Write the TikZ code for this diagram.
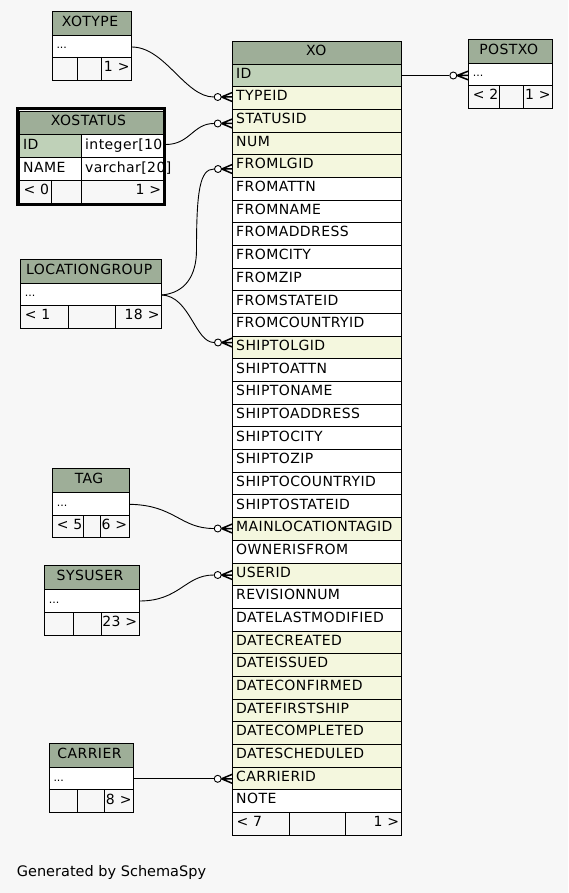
\documentclass[tikz,border=0pt]{standalone}
\usepackage{fontspec}
\setmainfont{DejaVu Sans}
\newfontfamily\cellfont{DejaVu Sans}[LetterSpace=3]

\definecolor{bgc}{HTML}{F7F7F7}
\definecolor{hdrc}{HTML}{9EAE98}
\definecolor{idc}{HTML}{BFD1B8}
\definecolor{fkc}{HTML}{F4F7DE}
\definecolor{plain}{HTML}{FFFFFF}

\tikzset{
  cell/.style={draw=black, line width=0.9pt},
  lbl/.style={inner sep=0pt, font=\cellfont\fontsize{14}{16}\selectfont},
  dots/.style={inner sep=0pt, font=\fontsize{11}{13}\selectfont},
  wire/.style={line width=0.9pt},
  endo/.style={circle, draw=black, fill=white, line width=0.9pt,
               minimum size=7pt, inner sep=0pt},
  crow/.style={line width=1.5pt},
  credit/.style={inner sep=0pt, font=\fontsize{14.5}{17}\selectfont},
}

% crow's foot: converging point x, table edge x, row y
\newcommand{\crowfoot}[3]{%
  \draw[crow] (#1,#3) -- (#2,#3-4.5) (#1,#3) -- (#2,#3) (#1,#3) -- (#2,#3+4.5);}

% header + "..." row of a collapsed table:
% name, x-left, x-right, y-top, y-header-bottom, y-row-bottom, title
\newcommand{\tabhead}[7]{%
  \filldraw[cell, fill=hdrc] (#2,#4) rectangle (#3,#5);
  \node[lbl, anchor=base] (#1-title) at ({(#2+#3)/2-2},{(#4+#5)/2+3}) {#7};
  \filldraw[cell, fill=white] (#2,#5) rectangle (#3,#6);
  \node[dots, anchor=base west] (#1-row) at ({#2+4},{(#5+#6)/2+2.5}) {...};}

% footer of a table: name, x-left, x-right, y-top, y-bottom,
% first divider x, second divider x, left text, right text
\newcommand{\tabfoot}[9]{%
  \draw[cell] (#2,#4) rectangle (#3,#5) (#6,#4) -- (#6,#5) (#7,#4) -- (#7,#5);
  \node[lbl, anchor=base west] (#1-fl) at ({#2+4},{(#4+#5)/2+3}) {#8};
  \node[lbl, anchor=base east] (#1-fr) at ({#3-2},{(#4+#5)/2+3}) {#9};}

\begin{document}
\begin{tikzpicture}[x=1pt, y=-1pt]
  \useasboundingbox (0,0) rectangle (568,893);
  \fill[bgc] (0,0) rectangle (568,893);

  % ---------------- XO ----------------
  \filldraw[cell, fill=hdrc] (232.3,41) rectangle (401.3,64);
  \node[lbl, anchor=base] (xo-title) at (316.3,55.5) {XO};
  \foreach \name/\col [count=\i from 0] in {
      ID/idc, TYPEID/fkc, STATUSID/fkc, NUM/fkc, FROMLGID/fkc,
      FROMATTN/plain, FROMNAME/plain, FROMADDRESS/plain, FROMCITY/plain,
      FROMZIP/plain, FROMSTATEID/plain, FROMCOUNTRYID/plain,
      SHIPTOLGID/fkc, SHIPTOATTN/plain, SHIPTONAME/plain,
      SHIPTOADDRESS/plain, SHIPTOCITY/plain, SHIPTOZIP/plain,
      SHIPTOCOUNTRYID/plain, SHIPTOSTATEID/plain, MAINLOCATIONTAGID/fkc,
      OWNERISFROM/plain, USERID/fkc, REVISIONNUM/plain,
      DATELASTMODIFIED/plain, DATECREATED/fkc, DATEISSUED/fkc,
      DATECONFIRMED/fkc, DATEFIRSTSHIP/fkc, DATECOMPLETED/fkc,
      DATESCHEDULED/fkc, CARRIERID/fkc, NOTE/plain} {
    \pgfmathsetmacro\yt{64+\i*22.68}
    \pgfmathsetmacro\yb{\yt+22.68}
    \filldraw[cell, fill=\col] (232.3,\yt) rectangle (401.3,\yb);
    \node[lbl, anchor=base west] (xo-\i) at (236,{\yt+14.2}) {\name};
  }
  \tabfoot{xo}{232.3}{401.3}{812.4}{835.3}{289.3}{345.3}{< 7}{1 >}

  % ---------------- XOTYPE ----------------
  \tabhead{xotype}{52.3}{131.7}{11.3}{35.3}{57}{XOTYPE}
  \tabfoot{xotype}{52.3}{131.7}{57}{80.3}{77.3}{101.7}{}{1 >}

  % ---------------- XOSTATUS (full columns, framed) ----------------
  \draw[line width=3pt] (17.8,108.8) rectangle (164.5,204.2);
  \filldraw[cell, fill=hdrc] (19.3,111) rectangle (163.3,134.3);
  \node[lbl, anchor=base] (xostatus-title) at (88.5,126) {XOSTATUS};
  \filldraw[cell, fill=idc] (19.3,134.3) rectangle (81.3,157);
  \filldraw[cell, fill=white] (81.3,134.3) rectangle (163.3,157);
  \filldraw[cell, fill=white] (19.3,157) rectangle (81.3,180);
  \filldraw[cell, fill=white] (81.3,157) rectangle (163.3,180);
  \node[lbl, anchor=base west] (xostatus-id) at (23,149.5) {ID};
  \node[lbl, anchor=base west] (xostatus-idtype) at (85,149.5) {integer[10};
  \node[lbl, anchor=base west] (xostatus-name) at (23,172.3) {NAME};
  \node[lbl, anchor=base west] (xostatus-nametype) at (85,172.3) {varchar[20]};
  \tabfoot{xostatus}{19.3}{163.3}{180}{203}{51.3}{81.3}{< 0}{1 >}

  % ---------------- POSTXO ----------------
  \tabhead{postxo}{468.7}{552.7}{39}{63.3}{85}{POSTXO}
  \tabfoot{postxo}{468.7}{552.7}{85}{108.3}{499.3}{523.3}{< 2}{1 >}

  % ---------------- LOCATIONGROUP ----------------
  \tabhead{lg}{20.7}{161.7}{259.3}{283.3}{305.3}{LOCATIONGROUP}
  \tabfoot{lg}{20.7}{161.7}{305.3}{328.3}{68.7}{115.7}{< 1}{18 >}

  % ---------------- TAG ----------------
  \tabhead{tag}{52.7}{129.3}{468.3}{492.3}{515}{TAG}
  \tabfoot{tag}{52.7}{129.3}{515}{537.3}{83.7}{100.7}{< 5}{6 >}

  % ---------------- SYSUSER ----------------
  \tabhead{sysuser}{44.7}{139.3}{565.7}{589.3}{612}{SYSUSER}
  \tabfoot{sysuser}{44.7}{139.3}{612}{635.3}{73.3}{101.7}{}{23 >}

  % ---------------- CARRIER ----------------
  \tabhead{carrier}{49.3}{133.7}{743.7}{767.3}{789.7}{CARRIER}
  \tabfoot{carrier}{49.3}{133.7}{789.7}{812.3}{77.3}{104.7}{}{8 >}

  % ---------------- relationship ends ----------------
  \coordinate (xotype-out)   at (131.7,47);
  \coordinate (xostatus-out) at (165.7,144.5);
  \coordinate (lg-out)       at (161.7,295);
  \coordinate (lg-bend)      at (196.5,250);
  \coordinate (tag-out)      at (129.3,504.3);
  \coordinate (sysuser-out)  at (139.3,601);
  \coordinate (carrier-out)  at (133.7,778.8);
  \coordinate (xo-id-out)    at (401.3,75.5);

  \node[endo] (dot-typeid)     at (217.7,97) {};
  \node[endo] (dot-statusid)   at (217.7,123.5) {};
  \node[endo] (dot-fromlgid)   at (218,169) {};
  \node[endo] (dot-shiptolgid) at (218,342.5) {};
  \node[endo] (dot-mainloc)    at (217.7,528.5) {};
  \node[endo] (dot-userid)     at (217.7,575) {};
  \node[endo] (dot-carrierid)  at (217.7,778.8) {};
  \node[endo] (dot-postxo)     at (453.3,75.5) {};

  % ---------------- connectors ----------------
  \draw[wire] (xotype-out) .. controls (165,47) and (185,97) .. (dot-typeid.west);
  \draw[wire] (xostatus-out) .. controls (190,144.5) and (193,123.5) .. (dot-statusid.west);
  \draw[wire] (lg-out) .. controls (185,293) and (196.5,276) .. (lg-bend)
              .. controls (196.5,190) and (200,169) .. (dot-fromlgid.west);
  \draw[wire] (lg-out) .. controls (190,296) and (195,342.5) .. (dot-shiptolgid.west);
  \draw[wire] (tag-out) .. controls (175,505) and (180,528.5) .. (dot-mainloc.west);
  \draw[wire] (sysuser-out) .. controls (180,601) and (185,575) .. (dot-userid.west);
  \draw[wire] (carrier-out) -- (dot-carrierid.west);
  \draw[wire] (xo-id-out) -- (dot-postxo.west);

  % crow's feet at the many side
  \crowfoot{221.5}{232.3}{97}
  \crowfoot{221.5}{232.3}{123.5}
  \crowfoot{221.8}{232.3}{169}
  \crowfoot{221.8}{232.3}{342.5}
  \crowfoot{221.5}{232.3}{528.5}
  \crowfoot{221.5}{232.3}{575}
  \crowfoot{221.5}{232.3}{778.8}
  \crowfoot{457}{468.7}{75.5}

  \node[credit, anchor=base west] (credit) at (16.7,876.5) {Generated by SchemaSpy};
\end{tikzpicture}
\end{document}
